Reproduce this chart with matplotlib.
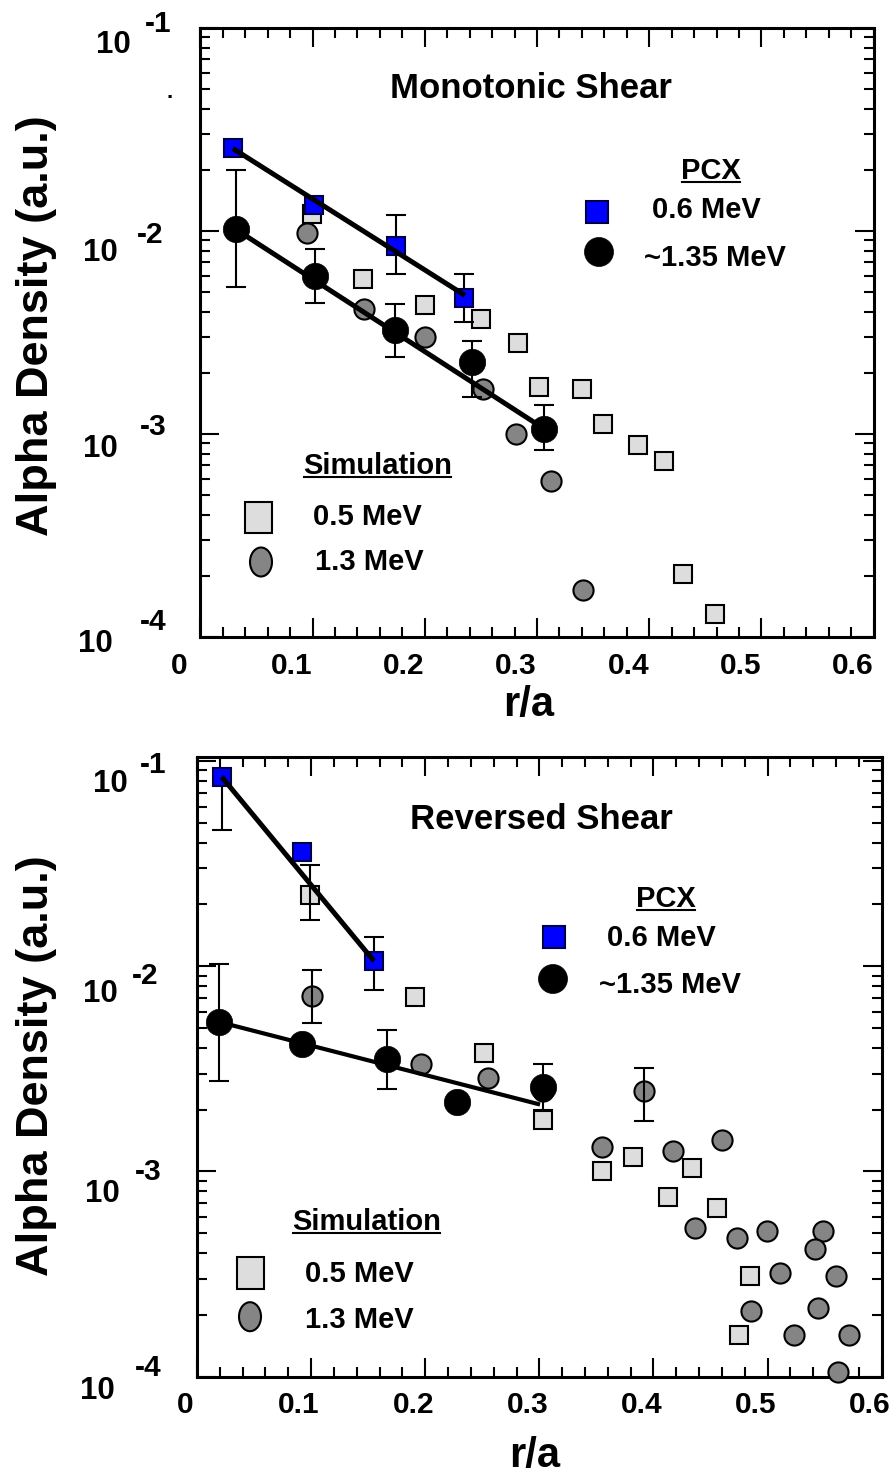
import numpy as np
import matplotlib
matplotlib.use('Agg')
import matplotlib.pyplot as plt
from matplotlib.ticker import MultipleLocator, LogLocator, NullFormatter
from matplotlib.transforms import blended_transform_factory, ScaledTranslation
from matplotlib.patches import Rectangle, Ellipse
from matplotlib.lines import Line2D

plt.rcParams['font.family'] = ['Liberation Sans', 'DejaVu Sans']
plt.rcParams['font.weight'] = 'bold'

nan = np.nan
W, H, DPI = 892, 1475, 100

# ---------------- Monotonic shear (top panel) ----------------
ms_pcx06_r = [0.029, 0.101, 0.174, 0.235]
ms_pcx06_n = [0.0255, 0.0135, 0.0084, 0.0047]
ms_pcx06_lo = [nan, nan, 0.00615, 0.00356]
ms_pcx06_hi = [nan, nan, 0.0120, 0.00615]

ms_pcx135_r = [0.0315, 0.1022, 0.1735, 0.2418, 0.3065]
ms_pcx135_n = [0.0102, 0.00598, 0.00326, 0.00227, 0.00106]
ms_pcx135_lo = [0.00528, 0.00442, 0.0024, 0.00152, 0.00083]
ms_pcx135_hi = [0.02005, 0.00811, 0.00438, 0.00288, 0.001387]

ms_sim05_r = [0.0993, 0.1453, 0.2002, 0.2498, 0.2828, 0.3021, 0.3398,
              0.3591, 0.3897, 0.4134, 0.4304, 0.4589]
ms_sim05_n = [0.0121, 0.00581, 0.00431, 0.00368, 0.0028, 0.00171, 0.00166,
              0.001125, 0.00088, 0.000733, 0.000205, 0.00013]

ms_sim13_r = [0.0953, 0.1459, 0.2002, 0.2522, 0.2813, 0.3125, 0.3407]
ms_sim13_n = [0.00975, 0.00414, 0.00302, 0.00166, 0.000997, 0.00059, 0.000171]

ms_fit06_r = [0.029, 0.2358]
ms_fit06_n = [0.0255, 0.00482]
ms_fit135_r = [0.0315, 0.3065]
ms_fit135_n = [0.0102, 0.00106]

# ---------------- Reversed shear (bottom panel) ----------------
rs_pcx06_r = [0.0216, 0.0918, 0.1551]
rs_pcx06_n = [0.0838, 0.0361, 0.0106]
rs_pcx06_lo = [0.046, nan, 0.00769]
rs_pcx06_hi = [0.0838, nan, 0.0139]

rs_pcx135_r = [0.0196, 0.0918, 0.1662, 0.2276, 0.303]
rs_pcx135_n = [0.00535, 0.0042, 0.00352, 0.00218, 0.00258]
rs_pcx135_lo = [0.00275, nan, 0.00253, nan, 0.0020]
rs_pcx135_hi = [0.0103, nan, 0.00488, nan, 0.00333]

rs_sim05_r = [0.099, 0.191, 0.2518, 0.3035, 0.3547, 0.3824, 0.4131, 0.4341,
              0.4555, 0.4847, 0.475]
rs_sim05_n = [0.0222, 0.00708, 0.00379, 0.00179, 0.00101, 0.001175, 0.00075,
              0.00104, 0.000665, 0.000308, 0.00016]
rs_sim05_lo = [0.01675] + [nan] * 10
rs_sim05_hi = [0.0311] + [nan] * 10

rs_sim13_r = [0.1005, 0.196, 0.2548, 0.303, 0.392, 0.3547, 0.4175, 0.4599,
              0.4365, 0.4735, 0.4993, 0.5489, 0.5416, 0.511, 0.56, 0.4855,
              0.544, 0.5232, 0.5717, 0.562]
rs_sim13_n = [0.00716, 0.00333, 0.00285, 0.00248, 0.00247, 0.001315, 0.001265,
              0.00143, 0.000531, 0.000473, 0.000515, 0.000515, 0.000417,
              0.000319, 0.000308, 0.00021, 0.000216, 0.00016, 0.00016, 0.0001057]
rs_sim13_lo = [0.00529, nan, nan, nan, 0.00176] + [nan] * 15
rs_sim13_hi = [0.00964, nan, nan, nan, 0.00321] + [nan] * 15

rs_fit06_r = [0.0216, 0.1551]
rs_fit06_n = [0.0838, 0.0106]
rs_fit135_r = [0.0196, 0.3006]
rs_fit135_n = [0.00535, 0.00212]

xtick_vals = [0, 0.1, 0.2, 0.3, 0.4, 0.5, 0.6]
xtick_text = ['0', '0.1', '0.2', '0.3', '0.4', '0.5', '0.6']
decades = [-1, -2, -3, -4]

LIGHT = '#dddddd'
GRAY = '#858585'
BLUE = '#0000ff'
NAVY = '#00004a'

fig = plt.figure(figsize=(W / DPI, H / DPI), dpi=DPI)


def fx(px):
    return px / W


def fy(py):
    return 1 - py / H


def errbars(ax, r, n, lo, hi, z):
    r, n, lo, hi = map(np.asarray, (r, n, lo, hi))
    m = ~np.isnan(lo)
    ax.errorbar(r[m], n[m], yerr=[n[m] - lo[m], hi[m] - n[m]], fmt='none',
                ecolor='black', elinewidth=1.5, capsize=7.5, capthick=1.5,
                zorder=z, clip_on=False)


def setup_axes(rect, ytop, ten_dx, ten_dy, exp_dx, exp_dy, xdx):
    ax = fig.add_axes(rect)
    ax.set_xlim(0, 0.6)
    ax.set_yscale('log')
    ax.set_ylim(1e-4, ytop)
    ax.xaxis.set_major_locator(MultipleLocator(0.1))
    ax.xaxis.set_minor_locator(MultipleLocator(0.02))
    ax.yaxis.set_minor_locator(LogLocator(base=10, subs=np.arange(2, 10)))
    ax.yaxis.set_minor_formatter(NullFormatter())
    ax.tick_params(which='both', direction='in', top=True, right=True,
                   labelbottom=False, labelleft=False, width=1.5)
    ax.tick_params(which='major', length=14)
    ax.tick_params(which='minor', length=7)
    for s in ax.spines.values():
        s.set_linewidth(2.2)
    # x tick labels
    bx = blended_transform_factory(ax.transData, ax.transAxes)
    for v, t in zip(xtick_vals, xtick_text):
        ax.text(v, 0, t, fontsize=21.5, ha='center', va='baseline',
                transform=bx + ScaledTranslation(xdx / DPI, -36.5 / DPI, fig.dpi_scale_trans))
    # y tick labels: "10" with exponent
    by = blended_transform_factory(ax.transAxes, ax.transData)
    for i, d in enumerate(decades):
        ax.text(0, 10.0 ** d, '10', fontsize=22.5, ha='right', va='baseline',
                transform=by + ScaledTranslation(ten_dx[i] / DPI, -ten_dy[i] / DPI, fig.dpi_scale_trans))
        ax.text(0, 10.0 ** d, '%d' % d, fontsize=21.5, ha='left', va='baseline',
                transform=by + ScaledTranslation(exp_dx[i] / DPI, -exp_dy[i] / DPI, fig.dpi_scale_trans))
    return ax


def draw_data(ax, s05r, s05n, s13r, s13n, p06r, p06n, p135r, p135n,
              f06r, f06n, f135r, f135n, lw06, lw135):
    ax.plot(s05r, s05n, 's', ms=13.5, mfc=LIGHT, mec='black', mew=1.5,
            zorder=3, clip_on=False)
    ax.plot(s13r, s13n, 'o', ms=14.5, mfc=GRAY, mec='black', mew=1.5,
            zorder=3, clip_on=False)
    ax.plot(p135r, p135n, 'o', ms=19, mfc='black', mec='black', mew=0.5,
            zorder=6, clip_on=False)
    ax.plot(p06r, p06n, 's', ms=13.5, mfc=BLUE, mec=NAVY, mew=1.5,
            zorder=6, clip_on=False)
    ax.plot(f06r, f06n, '-', color='black', lw=lw06, zorder=7,
            solid_capstyle='butt')
    ax.plot(f135r, f135n, '-', color='black', lw=lw135, zorder=7,
            solid_capstyle='butt')


def ftext(px, py, s, size=21, ha='left'):
    return fig.text(fx(px), fy(py), s, fontsize=size, ha=ha, va='baseline')


def add_rect(cx, cy, w, h, fc, ec='black'):
    fig.add_artist(Rectangle((fx(cx - w / 2), fy(cy + h / 2)), w / W, h / H,
                             transform=fig.transFigure, fc=fc, ec=ec, lw=1.5))


def add_ell(cx, cy, w, h, fc, ec='black', lw=1.5):
    fig.add_artist(Ellipse((fx(cx), fy(cy)), w / W, h / H,
                           transform=fig.transFigure, fc=fc, ec=ec, lw=lw))


# ---------------- top panel ----------------
ax1 = setup_axes([fx(200.3), fy(637), (873.7 - 200.3) / W, (637 - 28) / H], 1e-1,
                 ten_dx=[-70, -83, -83, -88], ten_dy=[25.3, 30, 23, 14.7],
                 exp_dx=[-55, -63, -60, -60], exp_dy=[3.7, 11.7, 1.3, -7],
                 xdx=-21)
draw_data(ax1, ms_sim05_r, ms_sim05_n, ms_sim13_r, ms_sim13_n,
          ms_pcx06_r, ms_pcx06_n, ms_pcx135_r, ms_pcx135_n,
          ms_fit06_r, ms_fit06_n, ms_fit135_r, ms_fit135_n, 3.6, 3.6)
errbars(ax1, ms_pcx06_r, ms_pcx06_n, ms_pcx06_lo, ms_pcx06_hi, 5)
errbars(ax1, ms_pcx135_r, ms_pcx135_n, ms_pcx135_lo, ms_pcx135_hi, 5)

# ---------------- bottom panel ----------------
ax2 = setup_axes([fx(197), fy(1376.7), (881.7 - 197) / W, (1376.7 - 757.3) / H], 0.1043,
                 ten_dx=[-69, -79, -77, -82], ten_dy=[30.7, 35.7, 30.7, 22],
                 exp_dx=[-57, -65, -62, -62], exp_dy=[12, 17.3, 9, -1],
                 xdx=-12)
draw_data(ax2, rs_sim05_r, rs_sim05_n, rs_sim13_r, rs_sim13_n,
          rs_pcx06_r, rs_pcx06_n, rs_pcx135_r, rs_pcx135_n,
          rs_fit06_r, rs_fit06_n, rs_fit135_r, rs_fit135_n, 3.6, 3.0)
errbars(ax2, rs_sim05_r, rs_sim05_n, rs_sim05_lo, rs_sim05_hi, 4)
errbars(ax2, rs_sim13_r, rs_sim13_n, rs_sim13_lo, rs_sim13_hi, 4)
errbars(ax2, rs_pcx06_r, rs_pcx06_n, rs_pcx06_lo, rs_pcx06_hi, 5)
errbars(ax2, rs_pcx135_r, rs_pcx135_n, rs_pcx135_lo, rs_pcx135_hi, 5)

# ---------------- labels, titles, in-plot legends ----------------
for cy in (326, 1066):
    fig.text(fx(37), fy(cy), 'Alpha Density (a.u.)', fontsize=32.5,
             rotation=90, ha='center', va='center')
ftext(529, 716, 'r/a', size=30, ha='center')
ftext(535, 1466.7, 'r/a', size=30, ha='center')
ftext(170, 98, '.', size=16, ha='center')  # stray dot in the original

ftext(531, 98.3, 'Monotonic Shear', size=25, ha='center')
ftext(541.5, 829.3, 'Reversed Shear', size=25, ha='center')

underlined = []
underlined.append((ftext(711, 179, 'PCX', ha='center'), 182))
ftext(652, 218.3, '0.6 MeV')
ftext(644, 266, '~1.35 MeV')
underlined.append((ftext(303, 474, 'Simulation'), 477))
ftext(313, 525, '0.5 MeV')
ftext(315, 570, '1.3 MeV')

underlined.append((ftext(665.7, 906.7, 'PCX', ha='center'), 910))
ftext(606.7, 946, '0.6 MeV')
ftext(599, 993.3, '~1.35 MeV')
underlined.append((ftext(292, 1230, 'Simulation'), 1233))
ftext(305, 1281.7, '0.5 MeV')
ftext(305, 1328.3, '1.3 MeV')

# legend symbols
add_rect(597, 212, 22, 22, BLUE, NAVY)
add_ell(599, 252, 29, 29, 'black', lw=0.5)
add_rect(258, 518, 27, 31, LIGHT)
add_ell(261, 562, 22, 29, GRAY)

add_rect(554, 936.7, 22, 22, BLUE, NAVY)
add_ell(553, 979, 29, 29, 'black', lw=0.5)
add_rect(250, 1272.7, 27, 32, LIGHT)
add_ell(250, 1316.7, 22, 29, GRAY)

# underlines drawn from the text extents
fig.canvas.draw()
renderer = fig.canvas.get_renderer()
for t, uy in underlined:
    bb = t.get_window_extent(renderer)
    fig.add_artist(Line2D([bb.x0 / W + 1.0 / W, bb.x1 / W - 1.0 / W], [fy(uy), fy(uy)],
                          transform=fig.transFigure, color='black', lw=1.5))

fig.savefig('out.png', dpi=DPI)
